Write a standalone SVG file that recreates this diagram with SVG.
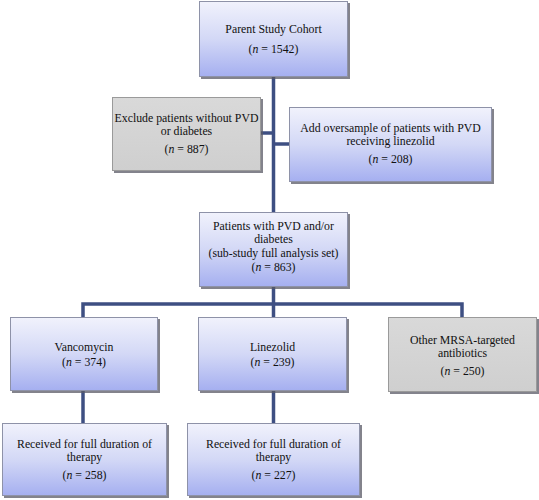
<svg xmlns="http://www.w3.org/2000/svg" width="539" height="500" viewBox="0 0 539 500">
<defs>
<linearGradient id="blue" x1="0" y1="0" x2="0" y2="1">
<stop offset="0" stop-color="#f1f2fc"/>
<stop offset="0.5" stop-color="#d3d8f6"/>
<stop offset="1" stop-color="#a5aff0"/>
</linearGradient>
<linearGradient id="gray" x1="0" y1="0" x2="0" y2="1">
<stop offset="0" stop-color="#d9d9d9"/>
<stop offset="1" stop-color="#cfcfcf"/>
</linearGradient>
</defs>
<style>
.b{fill:url(#blue);stroke:#8e92a8;stroke-width:1}
.g{fill:url(#gray);stroke:#9a9a9a;stroke-width:1}
.sh{fill:#5a5a66;opacity:0.75}
.c{stroke:#3e4f82;stroke-width:3.5;fill:none}
.t{font-family:'Liberation Serif','Times New Roman',serif;font-size:11.8px;fill:#111;text-anchor:middle}
</style>
<rect width="539" height="500" fill="#ffffff"/>
<g id="connectors">
<path class="c" d="M273.5 77 V212"/>
<path class="c" d="M261 133 H273.5"/>
<path class="c" d="M273.5 144 H289"/>
<path class="c" d="M273.5 287 V304"/>
<path class="c" d="M83 317 V304 H462 V317"/>
<path class="c" d="M273.5 304 V317"/>
<path class="c" d="M83 391 V423"/>
<path class="c" d="M273.5 391 V423"/>
</g>
<g id="parent" class="t">
<rect class="sh" x="201" y="3" width="149" height="76"/>
<rect class="b" x="199.5" y="1.5" width="148" height="75"/>
<text x="273.5" y="33">Parent Study Cohort</text>
<text x="273.5" y="53">(<tspan font-style="italic">n</tspan> = 1542)</text>
</g>
<g id="exclude" class="t">
<rect class="sh" x="114" y="99" width="149" height="74"/>
<rect class="g" x="112.5" y="97.5" width="148" height="73"/>
<text x="186.5" y="122">Exclude patients without PVD</text>
<text x="186.5" y="134.5">or diabetes</text>
<text x="186.5" y="152.5">(<tspan font-style="italic">n</tspan> = 887)</text>
</g>
<g id="oversample" class="t">
<rect class="sh" x="291" y="109" width="203" height="75"/>
<rect class="b" x="289.5" y="107.5" width="202" height="74"/>
<text x="390.5" y="132">Add oversample of patients with PVD</text>
<text x="390.5" y="144.5">receiving linezolid</text>
<text x="390.5" y="163">(<tspan font-style="italic">n</tspan> = 208)</text>
</g>
<g id="analysis" class="t">
<rect class="sh" x="201" y="214" width="149" height="75"/>
<rect class="b" x="199.5" y="212.5" width="148" height="74"/>
<text x="273.5" y="229.5">Patients with PVD and/or</text>
<text x="273.5" y="243">diabetes</text>
<text x="273.5" y="257">(sub-study full analysis set)</text>
<text x="273.5" y="271">(<tspan font-style="italic">n</tspan> = 863)</text>
</g>
<g id="vancomycin" class="t">
<rect class="sh" x="12" y="319" width="148" height="74"/>
<rect class="b" x="10.5" y="317.5" width="147" height="73"/>
<text x="84" y="351">Vancomycin</text>
<text x="84" y="366">(<tspan font-style="italic">n</tspan> = 374)</text>
</g>
<g id="linezolid" class="t">
<rect class="sh" x="200" y="319" width="149" height="74"/>
<rect class="b" x="198.5" y="317.5" width="148" height="73"/>
<text x="272.5" y="351">Linezolid</text>
<text x="272.5" y="366">(<tspan font-style="italic">n</tspan> = 239)</text>
</g>
<g id="other" class="t">
<rect class="sh" x="390" y="319" width="149" height="75"/>
<rect class="g" x="388.5" y="317.5" width="148" height="74"/>
<text x="462.5" y="344">Other MRSA-targeted</text>
<text x="462.5" y="356.5">antibiotics</text>
<text x="462.5" y="374.5">(<tspan font-style="italic">n</tspan> = 250)</text>
</g>
<g id="vanc-full" class="t">
<rect class="sh" x="4" y="425" width="165" height="73"/>
<rect class="b" x="2.5" y="423.5" width="164" height="72"/>
<text x="84.5" y="448">Received for full duration of</text>
<text x="84.5" y="460.5">therapy</text>
<text x="84.5" y="479">(<tspan font-style="italic">n</tspan> = 258)</text>
</g>
<g id="line-full" class="t">
<rect class="sh" x="189" y="425" width="173" height="73"/>
<rect class="b" x="187.5" y="423.5" width="172" height="72"/>
<text x="273.5" y="448">Received for full duration of</text>
<text x="273.5" y="460.5">therapy</text>
<text x="273.5" y="479">(<tspan font-style="italic">n</tspan> = 227)</text>
</g>
</svg>
